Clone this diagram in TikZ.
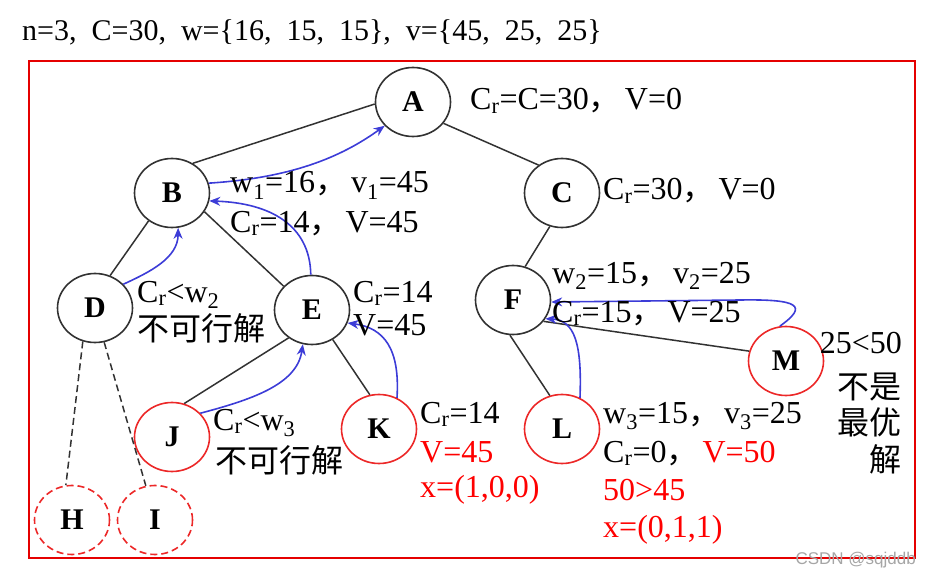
\documentclass[tikz,border=0pt]{standalone}
\usepackage{fontspec}
\setmainfont{Liberation Serif}
\newfontfamily\cjk{Noto Sans CJK SC}
\newfontfamily\wmfont{Liberation Sans}
\usetikzlibrary{shapes,arrows.meta}
\definecolor{nodered}{RGB}{236,40,40}
\definecolor{backblue}{RGB}{60,60,215}
\definecolor{edgegray}{RGB}{50,50,50}
\tikzstyle{vertex}=[ellipse,draw=edgegray,line width=1.6pt,minimum width=75pt,minimum height=69pt,inner sep=0pt,font=\bfseries\fontsize{30}{30}\selectfont]
\tikzstyle{Rvertex}=[vertex,draw=nodered]
\tikzstyle{Dvertex}=[Rvertex,dash pattern=on 7pt off 4pt]
\tikzstyle{note}=[anchor=base west,inner sep=0pt,font=\fontsize{32}{36}\selectfont]
\tikzstyle{rnote}=[note,text=red]
\tikzstyle{EdgeStyle}=[draw=edgegray,line width=1.5pt]
\tikzstyle{BackStyle}=[draw=backblue,line width=1.6pt,-{Stealth[length=11pt,width=9pt]}]
\newcommand{\dou}{{\cjk ，}\hspace{4pt}}
\newcommand{\Cres}{C\textsubscript{r}}

\begin{document}
\begin{tikzpicture}[x=1pt,y=-1pt]
    \useasboundingbox (0,0) rectangle (931,580);
    \node[note,font={\fontsize{30}{32}\selectfont\spaceskip=15pt\relax}] (title) at (22,41)
        {n=3, C=30, w=\{16, 15, 15\}, v=\{45, 25, 25\}};
    \draw[red!90!black,line width=1.3pt] (29,61) rectangle (915,558);
%   tree
    \node[vertex] (A) at (413,102) {A};
    \node[vertex] (B) at (172,193) {B};
    \node[vertex] (C) at (562,193) {C};
    \node[vertex] (D) at (95,308)  {D};
    \node[vertex] (E) at (312,310) {E};
    \node[vertex] (F) at (513,300) {F};
    \node[Rvertex] (J) at (172,437) {J};
    \node[Rvertex] (K) at (379,429) {K};
    \node[Rvertex] (L) at (562,429) {L};
    \node[Rvertex] (M) at (786,361) {M};
    \node[Dvertex] (H) at (72,520)  {H};
    \node[Dvertex] (I) at (155,520) {I};
    \draw[EdgeStyle] (B.55) -- (A.183);
    \draw[EdgeStyle] (A.-35) -- (C.130);
    \draw[EdgeStyle] (B.230) -- (D.65);
    \draw[EdgeStyle] (B.-30) -- (E.140);
    \draw[EdgeStyle] (C.250) -- (F.70);
    \draw[EdgeStyle] (E.230) -- (J.70);
    \draw[EdgeStyle] (E.-55) -- (K.105);
    \draw[EdgeStyle] (F.265) -- (L.110);
    \draw[EdgeStyle] (F.-35) -- (M.165);
    \draw[EdgeStyle,dash pattern=on 7pt off 4pt] (D.250) -- (H.100);
    \draw[EdgeStyle,dash pattern=on 7pt off 4pt] (D.285) -- (I.105);
%   backtracking
    \draw[BackStyle] (B.15) .. controls (290,178) and (340,158) .. (A.220);
    \draw[BackStyle] (D.40) .. controls (150,272) and (178,258) .. (B.280);
    \draw[BackStyle] (E.92) .. controls (310,225) and (270,203) .. (B.-12);
    \draw[BackStyle] (J.40) .. controls (250,400) and (297,385) .. (E.255);
    \draw[BackStyle] (K.60) .. controls (400,350) and (385,328) .. (E.-20);
    \draw[BackStyle] (L.60) .. controls (582,345) and (575,320) .. (F.-30);
    \draw[BackStyle] (M.100) .. controls (808,306) and (800,299) .. (740,300) -- (F.-3);
%   labels
    \node[note] (lA) at (470,110) {\Cres=C=30\dou V=0};
    \node[note] (lC) at (603,200) {\Cres=30\dou V=0};
    \node[note] (lB1) at (230,193) {w\textsubscript{1}=16\dou v\textsubscript{1}=45};
    \node[note] (lB2) at (230,232) {\Cres=14\dou V=45};
    \node[note] (lD1) at (137,302) {\Cres<w\textsubscript{2}};
    \node[note] (lD2) at (137,340) {\cjk 不可行解};
    \node[note] (lE1) at (353,302) {\Cres=14};
    \node[note] (lE2) at (353,335) {V=45};
    \node[note] (lF1) at (552,283) {w\textsubscript{2}=15\dou v\textsubscript{2}=25};
    \node[note] (lF2) at (552,322) {\Cres=15\dou V=25};
    \node[note] (lJ1) at (213,430) {\Cres<w\textsubscript{3}};
    \node[note] (lJ2) at (215,472) {\cjk 不可行解};
    \node[note] (lK1) at (420,423) {\Cres=14};
    \node[rnote] (lK2) at (420,462) {V=45};
    \node[rnote] (lK3) at (420,497) {x=(1,0,0)};
    \node[note] (lL1) at (603,423) {w\textsubscript{3}=15\dou v\textsubscript{3}=25};
    \node[note] (lL2) at (603,462) {\Cres=0\dou\textcolor{red}{V=50}};
    \node[rnote] (lL3) at (603,500) {50>45};
    \node[rnote] (lL4) at (603,537) {x=(0,1,1)};
    \node[note,anchor=base east] (lM1) at (902,353) {25<50};
    \node[note,anchor=base east] (lM2) at (902,398) {\cjk 不是};
    \node[note,anchor=base east] (lM3) at (902,434) {\cjk 最优};
    \node[note,anchor=base east] (lM4) at (902,471) {\cjk 解};
    \node[anchor=base east,inner sep=0pt,text=black!35,font=\wmfont\fontsize{17}{17}\selectfont] (wm) at (916,564) {CSDN @sqjddb};
\end{tikzpicture}
\end{document}
